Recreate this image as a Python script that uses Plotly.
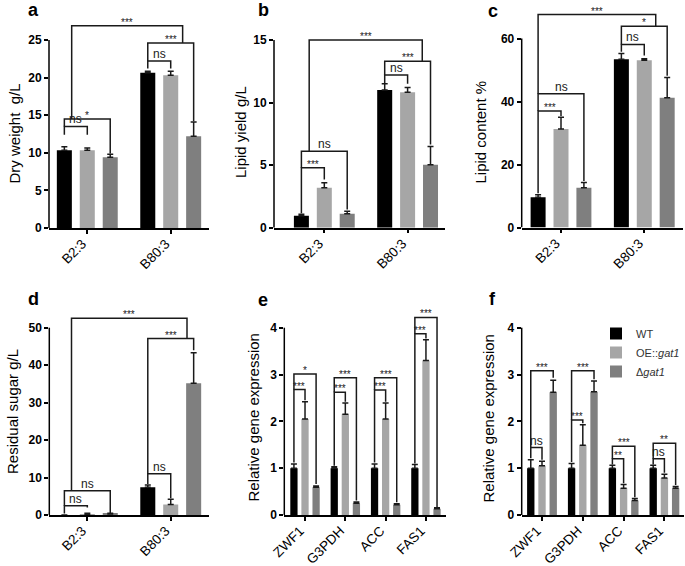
import plotly.graph_objects as go

W, H = 685, 566
FONT = "Arial, 'Liberation Sans', sans-serif"

# ---------------- data ----------------
strains = ["B2:3", "B80:3"]
genes = ["ZWF1", "G3PDH", "ACC", "FAS1"]
series_names = ["WT", "OE::<i>gat1</i>", "Δ<i>gat1</i>"]
series_colors = ["#000000", "#a6a6a6", "#7f7f7f"]

# a: dry weight g/L
dry_wt = [10.35, 20.65]
dry_wt_err = [0.45, 0.2]
dry_oe = [10.35, 20.3]
dry_oe_err = [0.3, 0.55]
dry_dg = [9.4, 12.2]
dry_dg_err = [0.4, 1.9]
dry_ticks = [0, 5, 10, 15, 20, 25]

# b: lipid yield g/L
yield_wt = [0.95, 11.0]
yield_wt_err = [0.12, 0.5]
yield_oe = [3.2, 10.82]
yield_oe_err = [0.4, 0.38]
yield_dg = [1.12, 5.04]
yield_dg_err = [0.2, 1.45]
yield_ticks = [0, 5, 10, 15]

# c: lipid content %
content_wt = [9.6, 53.4]
content_wt_err = [0.8, 1.8]
content_oe = [31.3, 53.1]
content_oe_err = [3.7, 0.5]
content_dg = [12.6, 41.2]
content_dg_err = [1.7, 6.4]
content_ticks = [0, 20, 40, 60]

# d: residual sugar g/L
sugar_wt = [0.0, 7.4]
sugar_wt_err = [0.0, 0.6]
sugar_oe = [0.15, 2.8]
sugar_oe_err = [0.3, 1.4]
sugar_dg = [0.3, 35.2]
sugar_dg_err = [0.15, 8.1]
sugar_ticks = [0, 10, 20, 30, 40, 50]

# e: relative gene expression
expr_e_wt = [1.0, 1.0, 1.0, 1.0]
expr_e_wt_err = [0.09, 0.03, 0.09, 0.08]
expr_e_oe = [2.05, 2.15, 2.05, 3.3]
expr_e_oe_err = [0.37, 0.24, 0.34, 0.44]
expr_e_dg = [0.59, 0.25, 0.22, 0.135]
expr_e_dg_err = [0.03, 0.03, 0.02, 0.02]

# f: relative gene expression
expr_f_wt = [1.0, 1.0, 1.0, 1.0]
expr_f_wt_err = [0.18, 0.1, 0.06, 0.06]
expr_f_oe = [1.05, 1.49, 0.57, 0.79]
expr_f_oe_err = [0.1, 0.44, 0.08, 0.08]
expr_f_dg = [2.62, 2.63, 0.31, 0.57]
expr_f_dg_err = [0.26, 0.23, 0.04, 0.04]
expr_ticks = [0, 1, 2, 3, 4]

# significance brackets: (group_left, slot_left, group_right, slot_right,
#                         height, left leg end, right leg end, label)
brackets_a = [
    (0, -1, 0, 0, 13.5, 12.4, 12.4, "ns"),
    (0, -1, 0, 1, 14.5, 13.5, 9.9, "*"),
    (1, -1, 1, 0, 22.2, 21.2, 21.2, "ns"),
    (1, -1, 1, 1, 24.6, 22.2, 14.2, "***"),
    (0, -0.68, 1, 0.52, 26.9, 14.5, 24.6, "***"),
]
brackets_b = [
    (0, -1, 0, 0, 4.8, 1.15, 3.85, "***"),
    (0, -1, 0, 1, 6.1, 4.8, 1.45, "ns"),
    (1, -1, 1, 0, 12.2, 11.55, 11.5, "ns"),
    (1, -1, 1, 1, 13.3, 12.2, 6.65, "***"),
    (0, -0.66, 1, 0.64, 15.0, 6.1, 13.3, "***"),
]
brackets_c = [
    (0, -1, 0, 0, 37.0, 10.9, 35.4, "***"),
    (0, -1, 0, 1, 42.5, 37.0, 14.8, "ns"),
    (1, -1, 1, 0, 58.1, 55.8, 54.6, "ns"),
    (1, -1, 1, 1, 63.9, 58.1, 48.2, "*"),
    (0, -1, 1, 0.5, 67.6, 42.5, 63.9, "***"),
]
brackets_d = [
    (0, -1, 0, 0, 2.5, 0.4, 2.0, "ns"),
    (0, -1, 0, 1, 6.5, 2.5, 0.55, "ns"),
    (1, -1, 1, 0, 11.0, 8.3, 4.5, "ns"),
    (1, -1, 1, 1, 47.1, 11.0, 44.0, "***"),
    (0, -0.69, 1, 0.71, 52.5, 6.5, 47.1, "***"),
]
brackets_e = [
    (0, -1, 0, 0, 2.68, 1.12, 2.45, "***"),
    (0, -1, 0, 1, 3.01, 2.68, 0.66, "*"),
    (1, -1, 1, 0, 2.62, 1.05, 2.42, "***"),
    (1, -1, 1, 1, 2.93, 2.62, 0.31, "***"),
    (2, -1, 2, 0, 2.67, 1.12, 2.42, "***"),
    (2, -1, 2, 1, 2.93, 2.67, 0.27, "***"),
    (3, -1, 3, 0, 3.87, 1.1, 3.77, "***"),
    (3, -1, 3, 1, 4.22, 3.87, 0.17, "***"),
]
brackets_f = [
    (0, -1, 0, 0, 1.44, 1.21, 1.18, "ns"),
    (0, -1, 0, 1, 3.08, 1.44, 2.93, "***"),
    (1, -1, 1, 0, 2.03, 1.13, 1.96, "***"),
    (1, -1, 1, 1, 3.08, 2.03, 2.9, "***"),
    (2, -1, 2, 0, 1.2, 1.08, 0.68, "**"),
    (2, -1, 2, 1, 1.47, 1.2, 0.38, "***"),
    (3, -1, 3, 0, 1.2, 1.08, 0.9, "ns"),
    (3, -1, 3, 1, 1.53, 1.2, 0.64, "**"),
]

# ---------------- layout geometry (pixels) ----------------
BARGAP = 0.175
BARGROUPGAP = 0.345
SLOT = (1 - BARGAP) / 3.0


def frame(px_l, px_r, px_b, px_t, top_val, px_ext):
    unit = (px_b - px_t) / top_val
    top = (px_b - px_ext) / unit
    return [px_l / W, px_r / W], [1 - px_b / H, 1 - px_ext / H], [0, top]


panels = [
    dict(letter="a", cats=strains, vals=[dry_wt, dry_oe, dry_dg],
         errs=[dry_wt_err, dry_oe_err, dry_dg_err], ticks=dry_ticks,
         title="Dry weight  g/L", brackets=brackets_a,
         geo=(49, 209, 228, 40, 14), xr=[-0.459, 1.459],
         title_xy=(13.5, 134), letter_xy=(26, 10)),
    dict(letter="b", cats=strains, vals=[yield_wt, yield_oe, yield_dg],
         errs=[yield_wt_err, yield_oe_err, yield_dg_err], ticks=yield_ticks,
         title="Lipid yield g/L", brackets=brackets_b,
         geo=(274, 445, 227.7, 40, 24), xr=[-0.604, 1.449],
         title_xy=(240, 132), letter_xy=(256, 10)),
    dict(letter="c", cats=strains, vals=[content_wt, content_oe, content_dg],
         errs=[content_wt_err, content_oe_err, content_dg_err], ticks=content_ticks,
         title="Lipid content %", brackets=brackets_c,
         geo=(521.7, 683, 227.5, 38.5, 8), xr=[-0.472, 1.465],
         title_xy=(480, 132.5), letter_xy=(486, 11)),
    dict(letter="d", cats=strains, vals=[sugar_wt, sugar_oe, sugar_dg],
         errs=[sugar_wt_err, sugar_oe_err, sugar_dg_err], ticks=sugar_ticks,
         title="Residual sugar g/L", brackets=brackets_d,
         geo=(49.3, 209, 515, 327.7, 305), xr=[-0.456, 1.459],
         title_xy=(12, 412), letter_xy=(26, 299)),
    dict(letter="e", cats=genes, vals=[expr_e_wt, expr_e_oe, expr_e_dg],
         errs=[expr_e_wt_err, expr_e_oe_err, expr_e_dg_err], ticks=expr_ticks,
         title="Relative gene expression", brackets=brackets_e,
         geo=(284.3, 445.7, 515, 327.7, 305), xr=[-0.514, 3.49],
         title_xy=(252.5, 418), letter_xy=(256, 300)),
    dict(letter="f", cats=genes, vals=[expr_f_wt, expr_f_oe, expr_f_dg],
         errs=[expr_f_wt_err, expr_f_oe_err, expr_f_dg_err], ticks=expr_ticks,
         title="Relative gene expression", brackets=brackets_f,
         geo=(521.7, 684, 515, 327.7, 318), xr=[-0.4975, 3.48],
         title_xy=(487.5, 419), letter_xy=(487, 299)),
]

fig = go.Figure()
shapes = []
annotations = []
layout_axes = {}

for i, p in enumerate(panels, start=1):
    xs = "" if i == 1 else str(i)
    xa, ya = "x" + xs, "y" + xs
    n = len(p["cats"])
    xpos = list(range(n))
    for k in range(3):
        fig.add_trace(go.Bar(
            x=xpos, y=p["vals"][k], name=series_names[k],
            marker=dict(color=series_colors[k], line=dict(width=0)),
            error_y=dict(type="data", symmetric=False, array=p["errs"][k],
                         arrayminus=[0] * n, color="#1a1a1a", thickness=1.5, width=3),
            xaxis=xa, yaxis=ya, showlegend=(i == 6), legendgroup=str(k),
        ))
    xdom, ydom, yr = frame(*p["geo"][:3], p["geo"][3], p["ticks"][-1], p["geo"][4])
    layout_axes["xaxis" + xs] = dict(
        domain=xdom, range=p["xr"], anchor=ya, tickmode="array",
        tickvals=xpos, ticktext=p["cats"], tickangle=-45,
        ticklabelshift=-5, ticklabelstandoff=-3,
        ticks="outside", ticklen=4, tickwidth=1.5, tickcolor="black",
        showline=True, linewidth=1.5, linecolor="black",
        showgrid=False, zeroline=False, automargin=False,
        tickfont=dict(size=13.5, color="black", family=FONT),
    )
    layout_axes["yaxis" + xs] = dict(
        domain=ydom, range=yr, anchor=xa, tickmode="array",
        tickvals=p["ticks"], ticks="outside", ticklen=4, tickwidth=1.5,
        tickcolor="black", showline=False, showgrid=False, zeroline=False,
        automargin=False,
        tickfont=dict(size=12, color="black", family=FONT, weight="bold"),
    )
    # y axis line, up to the top tick
    shapes.append(dict(type="line", xref=xa + " domain", yref=ya, x0=0, x1=0,
                       y0=0, y1=p["ticks"][-1], line=dict(color="black", width=1.5)))
    # significance brackets
    for (gl, sl, gr, sr, yh, ybl, ybr, lab) in p["brackets"]:
        xl = gl + sl * SLOT
        xr_ = gr + sr * SLOT
        shapes.append(dict(type="path", xref=xa, yref=ya,
                           path=f"M {xl},{ybl} V {yh} H {xr_} V {ybr}",
                           line=dict(color="#1a1a1a", width=1.5)))
        is_star = "*" in lab
        annotations.append(dict(
            x=(xl + xr_) / 2, y=yh, xref=xa, yref=ya, text=lab, showarrow=False,
            xanchor="center", yanchor="bottom", yshift=-4 if is_star else -2,
            font=dict(size=10 if is_star else 12, color="#1a1a1a", family=FONT)))
    # axis title
    tx, ty = p["title_xy"]
    annotations.append(dict(x=tx / W, y=1 - ty / H, xref="paper", yref="paper",
                            text=p["title"], textangle=-90, showarrow=False,
                            xanchor="center", yanchor="middle",
                            font=dict(size=15, color="black", family=FONT)))
    lx, ly = p["letter_xy"]
    annotations.append(dict(x=lx / W, y=1 - ly / H, xref="paper", yref="paper",
                            text=f"<b>{p['letter']}</b>", showarrow=False,
                            xanchor="left", yanchor="middle",
                            font=dict(size=18, color="black", family=FONT)))

fig.update_layout(
    width=W, height=H, autosize=False,
    margin=dict(l=0, r=0, t=0, b=0, pad=0, autoexpand=False),
    paper_bgcolor="white", plot_bgcolor="white",
    barmode="group", bargap=BARGAP, bargroupgap=BARGROUPGAP,
    font=dict(family=FONT, color="black"),
    shapes=shapes, annotations=annotations,
    legend=dict(x=1.0, y=1 - 319 / H, xanchor="right", yanchor="top",
                bgcolor="rgba(0,0,0,0)", font=dict(size=11, color="#333", family=FONT),
                tracegroupgap=0, itemwidth=30),
    **layout_axes,
)

fig.write_html("out.html", config={"displayModeBar": False},
               post_script="document.body.style.margin='0';")
